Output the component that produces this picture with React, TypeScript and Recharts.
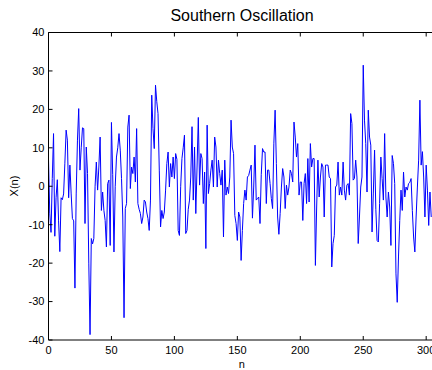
import { LineChart, Line, XAxis, YAxis } from 'recharts';

// Southern Oscillation index, one value per step n = 0..304
const soi = [
  7, -7, -12, 2, 13.7, -13, -3, 1.7, -9, -17,
  -3, -3.5, -2, 6, 14.6, 12, -3, 5.5, -2, -8.4,
  -9, -26.5, -2, 12, 20.2, 4.2, 10, 15.2, 15, -9.7,
  10.2, 3.3, -20, -38.6, -13.6, -15, -13.6, 0, 6.3, -1,
  5, 12.8, -6.3, -1.5, -6.3, -8.9, -15.8, 0.7, 1.6, -15.4,
  16.6, 3, -17.1, 0, 7.6, 10, 13.7, 9.4, 2, -8,
  -34.2, -5.8, -4.5, 15.4, 18.5, -0.6, 5, 3.3, 7.6, 1.1,
  15, -4.5, -6, -7.1, -9.7, -8, -3.6, -4.1, -6.7, -8.4,
  -11.5, -3.6, 23.7, 15, 9.8, 26.3, 22, 18.9, 4.2, -10.6,
  -6.3, -8.4, -6.7, -1, 5.9, 8.9, -0.2, 5.9, 2.4, 7.6,
  2, 8.5, 7, -11.5, -12.8, 0, 7.2, 10, 13.3, -12.3,
  -11.5, -6, -3.6, 2.4, 15.5, -3.6, 10.2, -7.1, 5, 17.9,
  0.3, 8.5, 7.2, -4.5, 3.7, -16.2, 15.9, -1.9, 0.7, 4.2,
  6.8, -0.2, 12.8, 10.2, -0.2, 6.8, 3.3, 0.3, 4.2, -13.2,
  6.8, -2.3, -0.2, -1.9, 2.4, 17.2, 10.2, 8.5, -7.6, -9.7,
  -14.1, -6.7, -8, -19.3, -11.5, -4.5, -1, -3.6, 2.4, 2.8,
  4.2, 5.5, -8.3, -0.2, 10.7, -3.6, -3.2, -2.8, -9.7, 3,
  9.8, 8.9, 8.9, -4.5, 4.2, 4.2, 0.7, -3.2, -5.8, 11.2,
  19.8, 5.9, -8, -12.5, -7.1, -0.2, 4.6, 2.4, -5.8, 0.3,
  -2.3, -0.2, 4.2, 3.3, 1.1, 16.7, 12.8, 7.6, 11.1, -2.3,
  1.1, 1.1, -8.9, 0.7, 3.3, -4.5, 7.2, -4.1, 11.1, 5,
  7.2, 7.2, -20.6, -5.4, 6.8, -2.8, 2.4, 5.9, 5, -8,
  5.5, 5.5, 5.5, 2.4, 2, -21, -14.9, -12.8, -0.2, 0.3,
  6.3, -2.3, -0.2, -2.3, 6.3, -1, -3.6, 0.3, 0.7, -2.3,
  18.9, 16.3, 1.6, 2, 6.8, 2.4, -14.9, -8, -0.2, 2.4,
  31.5, 17.2, 11.1, -1.5, 19.8, 12.8, 10.7, -11.9, -2, 9.4,
  -6, -14.1, -14.5, -4.5, 7.6, 2, -3.6, 13.7, -2.8, -8,
  -1.5, -5.4, -15.4, 8, 5.9, 0.7, -22.8, -30.2, -18.4, -8.9,
  -1, -6.3, 3.7, -2.8, -0.2, -1, 0.7, 1, 2, -6.3,
  -13.2, -17.1, -8, -0.2, 6.8, 22.4, 5.5, 9, 2.4, -8,
  5.5, -1, -10.2, -1.5, -8,
];

const xTicks = [0, 50, 100, 150, 200, 250, 300];
const yTicks = [-40, -30, -20, -10, 0, 10, 20, 30, 40];
const xDomain = [0, 307];
const yDomain = [-40, 40];

const title = 'Southern Oscillation';
const xLabel = 'n';
const yLabel = 'X(n)';

const data = soi.map((value, n) => ({ n, x: value }));

const font = '"Liberation Sans", Arial, Helvetica, sans-serif';
const tickStyle = { fill: '#000', fontSize: 11, fontFamily: font };

export default function App() {
  return (
    <div
      style={{
        position: 'fixed',
        left: 0,
        top: 0,
        width: 432,
        height: 370,
        overflow: 'hidden',
        background: '#fff',
      }}
    >
      <LineChart
        width={440}
        height={370}
        data={data}
        margin={{ top: 31.5, right: 5, bottom: 0, left: 0 }}
      >
        {/* top edge of the box, ticks pointing inward */}
        <XAxis
          xAxisId="top"
          orientation="top"
          dataKey="n"
          type="number"
          domain={xDomain}
          ticks={xTicks}
          interval={0}
          height={1}
          tickSize={-4}
          tickFormatter={() => ''}
          axisLine={{ stroke: '#000' }}
          tickLine={{ stroke: '#000' }}
        />
        <XAxis
          dataKey="n"
          type="number"
          domain={xDomain}
          ticks={xTicks}
          interval={0}
          height={30}
          tickSize={-4}
          tickMargin={10}
          tick={tickStyle}
          axisLine={{ stroke: '#000' }}
          tickLine={{ stroke: '#000' }}
          label={{ value: xLabel, position: 'insideBottom', offset: 2, fill: '#000', fontSize: 11, fontFamily: font }}
        />
        <YAxis
          type="number"
          domain={yDomain}
          ticks={yTicks}
          interval={0}
          width={48.5}
          tickSize={-4}
          tickMargin={8}
          tick={tickStyle}
          axisLine={{ stroke: '#000' }}
          tickLine={{ stroke: '#000' }}
        />
        <Line
          dataKey="x"
          type="linear"
          stroke="#0000ff"
          strokeWidth={1}
          dot={false}
          isAnimationActive={false}
        />
      </LineChart>
      <svg
        width={432}
        height={370}
        style={{ position: 'absolute', left: 0, top: 0, pointerEvents: 'none' }}
      >
        <text x={242} y={21} textAnchor="middle" fontSize={16} fontFamily={font} fill="#000">
          {title}
        </text>
        <text
          transform="translate(18,186) rotate(-90)"
          textAnchor="middle"
          fontSize={11}
          fontFamily={font}
          fill="#000"
        >
          {yLabel}
        </text>
      </svg>
    </div>
  );
}
